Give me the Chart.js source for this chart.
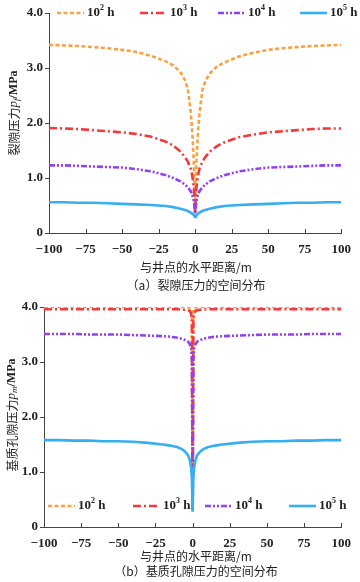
<!DOCTYPE html>
<html lang="zh">
<head>
<meta charset="UTF-8">
<title>裂隙压力与基质孔隙压力的空间分布</title>
<script src="https://cdn.jsdelivr.net/npm/chart.js"></script>
<style>
  body { margin: 0; background: #fff; }
  .panel { position: absolute; left: 0; width: 360px; }
  #top { top: 0; height: 292px; }
  #bottom { top: 292px; height: 290px; }
</style>
</head>
<body>
<div class="panel" id="top"><canvas id="chartA"></canvas></div>
<div class="panel" id="bottom"><canvas id="chartB"></canvas></div>
<script>
// horizontal distance from the well (m)
const distance = [-100, -90, -80, -70, -60, -50, -40, -30, -20, -15, -10, -7, -5, -3, -2, -1, -0.5, 0,
  0.5, 1, 2, 3, 5, 7, 10, 15, 20, 30, 40, 50, 60, 70, 80, 90, 100];

const xTicks = [-100, -75, -50, -25, 0, 25, 50, 75, 100];
const yTicks = [0, 1, 2, 3, 4];
const legendExp = ['2', '3', '4', '5'];   // 10^n h

// (a) fracture pressure p_f, MPa
const fracture1e2 = [3.42, 3.41, 3.40, 3.38, 3.36, 3.33, 3.29, 3.22, 3.12, 3.05, 2.92, 2.78, 2.62, 2.20, 1.85, 1.35, 0.95, 0.35,
  0.95, 1.35, 1.85, 2.18, 2.60, 2.76, 2.90, 3.03, 3.10, 3.21, 3.28, 3.33, 3.36, 3.38, 3.40, 3.41, 3.42];
const fracture1e3 = [1.91, 1.90, 1.89, 1.87, 1.85, 1.83, 1.80, 1.75, 1.66, 1.59, 1.48, 1.38, 1.30, 1.17, 1.05, 0.85, 0.65, 0.35,
  0.65, 0.85, 1.05, 1.17, 1.30, 1.38, 1.48, 1.58, 1.65, 1.74, 1.79, 1.83, 1.85, 1.87, 1.89, 1.90, 1.90];
const fracture1e4 = [1.23, 1.23, 1.22, 1.21, 1.20, 1.19, 1.16, 1.12, 1.05, 1.00, 0.94, 0.88, 0.83, 0.76, 0.70, 0.60, 0.50, 0.35,
  0.50, 0.60, 0.70, 0.76, 0.83, 0.88, 0.94, 1.00, 1.05, 1.12, 1.16, 1.19, 1.20, 1.21, 1.22, 1.23, 1.23];
const fracture1e5 = [0.56, 0.56, 0.55, 0.55, 0.54, 0.53, 0.52, 0.51, 0.49, 0.47, 0.44, 0.42, 0.40, 0.37, 0.35, 0.33, 0.31, 0.29,
  0.31, 0.33, 0.35, 0.37, 0.40, 0.42, 0.44, 0.47, 0.49, 0.51, 0.52, 0.53, 0.54, 0.55, 0.55, 0.56, 0.56];

// (b) matrix pore pressure p_m, MPa
const matrix1e2 = [4.00, 4.00, 4.00, 4.00, 4.00, 4.00, 4.00, 4.00, 4.00, 4.00, 4.00, 4.00, 4.00, 4.00, 3.99, 3.98, 3.90, 0.30,
  3.90, 3.98, 3.99, 4.00, 4.00, 4.00, 4.00, 4.00, 4.00, 4.00, 4.00, 4.00, 4.00, 4.00, 4.00, 4.00, 4.00];
const matrix1e3 = [3.96, 3.96, 3.96, 3.96, 3.96, 3.96, 3.96, 3.96, 3.96, 3.96, 3.96, 3.95, 3.95, 3.94, 3.93, 3.88, 3.75, 0.30,
  3.75, 3.88, 3.93, 3.94, 3.95, 3.95, 3.96, 3.96, 3.96, 3.96, 3.96, 3.96, 3.96, 3.96, 3.96, 3.96, 3.96];
const matrix1e4 = [3.51, 3.51, 3.51, 3.50, 3.50, 3.50, 3.49, 3.48, 3.47, 3.46, 3.44, 3.42, 3.40, 3.37, 3.33, 3.25, 3.10, 0.30,
  3.10, 3.25, 3.33, 3.37, 3.40, 3.42, 3.44, 3.46, 3.47, 3.48, 3.49, 3.50, 3.50, 3.50, 3.51, 3.51, 3.51];
const matrix1e5 = [1.58, 1.58, 1.57, 1.57, 1.56, 1.56, 1.55, 1.53, 1.50, 1.48, 1.45, 1.41, 1.37, 1.30, 1.23, 1.08, 0.88, 0.28,
  0.88, 1.08, 1.23, 1.30, 1.37, 1.41, 1.45, 1.48, 1.50, 1.53, 1.55, 1.56, 1.56, 1.57, 1.57, 1.58, 1.58];

// line looks, one per time step
const looks = [
  { color: '#f9a040', dash: [4, 2.5] },
  { color: '#f23a3a', dash: [8, 3, 2, 3] },
  { color: '#9340f0', dash: [6, 2, 2, 2, 2, 2] },
  { color: '#35aef2', dash: [] }
];

const SERIF = '"Liberation Serif", "DejaVu Serif", serif';
const CJK = '"Noto Sans CJK SC", "Noto Sans", sans-serif';
const AXIS = '#444';

function toPoints(vals) {
  return distance.map((d, i) => ({ x: d, y: vals[i] }));
}

function fmtMinus(v) {
  return String(v).replace('-', '\u2212');
}

// axis titles, caption, inner x ticks and the in-plot legend
const decorPlugin = {
  id: 'decor',
  afterDraw(chart, args, o) {
    const ctx = chart.ctx;
    const area = chart.chartArea;
    const xs = chart.scales.x;
    ctx.save();

    // inward x tick marks
    ctx.strokeStyle = AXIS;
    ctx.lineWidth = 1;
    ctx.setLineDash([]);
    xs.ticks.forEach(t => {
      const px = Math.round(xs.getPixelForValue(t.value)) + 0.5;
      ctx.beginPath();
      ctx.moveTo(px, area.bottom);
      ctx.lineTo(px, area.bottom - 4);
      ctx.stroke();
    });

    // y title, rotated, with italic subscripted symbol
    const parts = [
      { t: o.yLabel, f: '12px ' + CJK, dy: 0 },
      { t: 'p', f: 'italic 13px ' + SERIF, dy: 0 },
      { t: o.ySub, f: 'italic 9px ' + SERIF, dy: 3 },
      { t: '/MPa', f: 'bold 12px ' + SERIF, dy: 0 }
    ];
    let total = 0;
    parts.forEach(p => { ctx.font = p.f; p.w = ctx.measureText(p.t).width; total += p.w; });
    ctx.translate(o.yTitleX, o.yTitleY);
    ctx.rotate(-Math.PI / 2);
    ctx.fillStyle = '#222';
    ctx.textBaseline = 'middle';
    ctx.textAlign = 'left';
    let cx = -total / 2;
    parts.forEach(p => { ctx.font = p.f; ctx.fillText(p.t, cx, p.dy); cx += p.w; });
    ctx.setTransform(1, 0, 0, 1, 0, 0);

    // x title and caption
    ctx.textAlign = 'center';
    ctx.textBaseline = 'middle';
    ctx.font = '12px ' + CJK;
    ctx.fillText('与井点的水平距离/m', o.midX, o.xTitleY);
    ctx.fillText(o.caption, o.midX, o.captionY);

    // legend
    o.legendX.forEach((lx, i) => {
      const look = looks[i];
      ctx.strokeStyle = look.color;
      ctx.lineWidth = 2.6;
      ctx.setLineDash(look.dash);
      ctx.beginPath();
      ctx.moveTo(lx, o.legendY);
      ctx.lineTo(lx + 27, o.legendY);
      ctx.stroke();
      ctx.setLineDash([]);
      ctx.fillStyle = '#222';
      ctx.textAlign = 'left';
      ctx.textBaseline = 'middle';
      let tx = lx + 30;
      ctx.font = 'bold 13px ' + SERIF;
      ctx.fillText('10', tx, o.legendY);
      tx += ctx.measureText('10').width;
      ctx.font = 'bold 8px ' + SERIF;
      ctx.fillText(legendExp[i], tx, o.legendY - 5);
      tx += ctx.measureText(legendExp[i]).width;
      ctx.font = 'bold 13px ' + SERIF;
      ctx.fillText(' h', tx, o.legendY);
    });
    ctx.restore();
  }
};

function makeChart(id, seriesList, cfg) {
  const datasets = seriesList.map((vals, i) => ({
    label: '10^' + legendExp[i] + ' h',
    data: toPoints(vals),
    borderColor: looks[i].color,
    borderDash: looks[i].dash,
    borderWidth: 2.6,
    pointRadius: 0,
    fill: false,
    tension: 0
  }));
  // draw the solid line first so dashed ones sit on top, as in the figure
  datasets.reverse();

  return new Chart(document.getElementById(id), {
    type: 'line',
    data: { datasets },
    options: {
      responsive: true,
      maintainAspectRatio: false,
      animation: false,
      layout: { padding: { left: 0, right: cfg.padRight, top: cfg.padTop, bottom: 0 } },
      plugins: {
        legend: { display: false },
        tooltip: { enabled: false },
        decor: cfg.decor
      },
      scales: {
        x: {
          type: 'linear',
          min: -100,
          max: 100,
          afterBuildTicks: s => { s.ticks = xTicks.map(v => ({ value: v })); },
          afterFit: s => { s.height = cfg.xHeight; },
          grid: { display: true, drawOnChartArea: false, drawTicks: false },
          border: { color: AXIS, width: 1 },
          ticks: {
            padding: 9,
            color: '#222',
            maxRotation: 0,
            font: { family: SERIF, size: 13, weight: 'bold' },
            callback: v => fmtMinus(v)
          }
        },
        y: {
          min: 0,
          max: 4,
          afterBuildTicks: s => { s.ticks = yTicks.map(v => ({ value: v })); },
          afterFit: s => { s.width = cfg.yWidth; },
          grid: { display: true, drawOnChartArea: false, drawTicks: true, tickLength: 4, color: AXIS },
          border: { color: AXIS, width: 1 },
          ticks: {
            padding: 2,
            color: '#222',
            font: { family: SERIF, size: 13, weight: 'bold' },
            callback: v => (v === 0 ? '0' : v.toFixed(1))
          }
        }
      }
    },
    plugins: [decorPlugin]
  });
}

makeChart('chartA', [fracture1e2, fracture1e3, fracture1e4, fracture1e5], {
  padRight: 15, padTop: 13, xHeight: 59, yWidth: 49,
  decor: {
    yLabel: '裂隙压力', ySub: 'f', yTitleX: 14, yTitleY: 113,
    midX: 196, xTitleY: 267, caption: '（a）裂隙压力的空间分布', captionY: 285,
    legendY: 13, legendX: [57, 140, 218, 300]
  }
});

makeChart('chartB', [matrix1e2, matrix1e3, matrix1e4, matrix1e5], {
  padRight: 12, padTop: 15, xHeight: 55, yWidth: 44,
  decor: {
    yLabel: '基质孔隙压力', ySub: 'm', yTitleX: 12, yTitleY: 123,
    midX: 196, xTitleY: 264, caption: '（b）基质孔隙压力的空间分布', captionY: 279,
    legendY: 214, legendX: [48, 133, 205, 289]
  }
});
</script>
</body>
</html>
